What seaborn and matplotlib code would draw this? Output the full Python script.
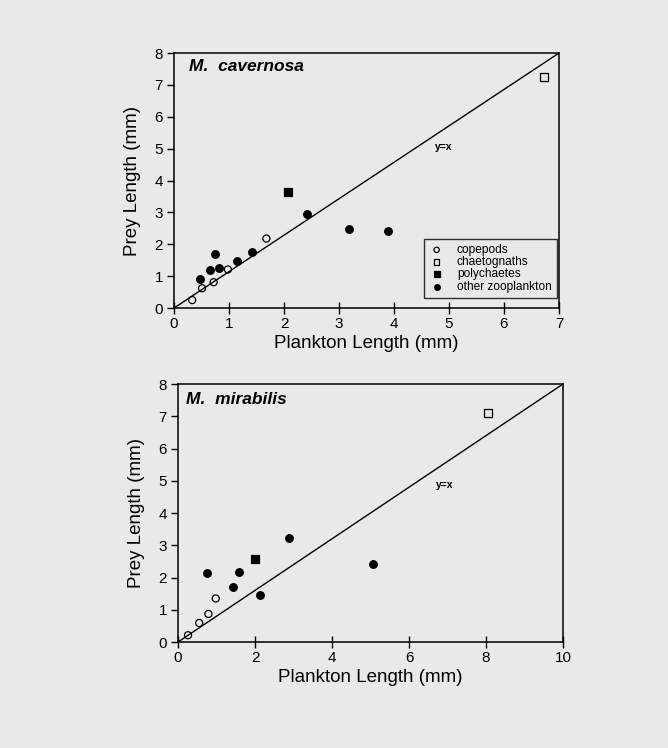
import matplotlib
matplotlib.use("Agg")
import matplotlib.pyplot as plt
import seaborn as sns
import pandas as pd

# M. cavernosa (top panel)
cav_copepod_x = [0.33, 0.51, 0.72, 0.98, 1.68]
cav_copepod_y = [0.25, 0.62, 0.81, 1.21, 2.18]
cav_chaeto_x = [6.73]
cav_chaeto_y = [7.24]
cav_poly_x = [2.08]
cav_poly_y = [3.65]
cav_other_x = [0.47, 0.65, 0.75, 0.82, 1.15, 1.41, 2.41, 3.19, 3.90]
cav_other_y = [0.92, 1.20, 1.69, 1.27, 1.47, 1.76, 2.95, 2.49, 2.41]

# M. mirabilis (bottom panel)
mir_copepod_x = [0.26, 0.55, 0.79, 0.98]
mir_copepod_y = [0.21, 0.59, 0.87, 1.35]
mir_chaeto_x = [8.05]
mir_chaeto_y = [7.11]
mir_poly_x = [2.01]
mir_poly_y = [2.56]
mir_other_x = [0.74, 1.44, 1.58, 2.12, 2.88, 5.07]
mir_other_y = [2.13, 1.72, 2.17, 1.47, 3.21, 2.43]

groups = ["copepods", "chaetognaths", "polychaetes", "other zooplankton"]
x_ticks_top = [0, 1, 2, 3, 4, 5, 6, 7]
x_ticks_bottom = [0, 2, 4, 6, 8, 10]
y_ticks = [0, 1, 2, 3, 4, 5, 6, 7, 8]

# marker style per group: (marker, filled, size)
style = {
    "copepods": ("o", False, 26),
    "chaetognaths": ("s", False, 30),
    "polychaetes": ("s", True, 36),
    "other zooplankton": ("o", True, 30),
}

sns.set_style("white")
plt.rcParams["font.family"] = ["Liberation Sans", "DejaVu Sans"]
plt.rcParams["text.color"] = "black"
plt.rcParams["axes.labelcolor"] = "black"
plt.rcParams["xtick.color"] = "black"
plt.rcParams["ytick.color"] = "black"
bg = "#e9e9e7"


def make_df(xs, ys):
    rows = []
    for g, gx, gy in zip(groups, xs, ys):
        for a, b in zip(gx, gy):
            rows.append({"plankton": a, "prey": b, "group": g})
    return pd.DataFrame(rows)


def draw_panel(ax, df, xmax, xticks, title, title_pos, yx_pos, legend=False):
    ax.set_facecolor(bg)
    # diagonal reference line, corner to corner
    sns.lineplot(x=[0, xmax], y=[0, 8], ax=ax, color="black", linewidth=1.0)
    for g in groups:
        sub = df[df["group"] == g]
        m, filled, s = style[g]
        sns.scatterplot(data=sub, x="plankton", y="prey", ax=ax, marker=m, s=s,
                        facecolor="black" if filled else "none",
                        edgecolor="black", linewidth=0.9, label=g, zorder=3)
    ax.set_xlim(0, xmax)
    ax.set_ylim(0, 8)
    ax.set_xticks(xticks)
    ax.set_yticks(y_ticks)
    ax.set_xlabel("Plankton Length (mm)", fontsize=13.5, labelpad=3)
    ax.set_ylabel("Prey Length (mm)", fontsize=13.5, labelpad=10)
    ax.tick_params(axis="x", bottom=True, direction="inout", length=9, width=1,
                   labelsize=11, pad=2)
    ax.tick_params(axis="y", left=True, direction="out", length=5, width=1,
                   labelsize=11, pad=3)
    for sp in ax.spines.values():
        sp.set_visible(True)
        sp.set_color("black")
        sp.set_linewidth(1.1)
    ax.text(title_pos[0], title_pos[1], title, fontsize=12.5, fontweight="bold",
            fontstyle="italic", va="center", ha="left")
    ax.text(yx_pos[0], yx_pos[1], "y=x", fontsize=7.5, fontweight="bold",
            va="center", ha="left")
    if legend:
        leg = ax.legend(loc="lower right", frameon=True, fancybox=False,
                        fontsize=8.6, handletextpad=1.1, borderpad=0.45,
                        labelspacing=0.02, handlelength=1.2, markerscale=0.75,
                        borderaxespad=0, bbox_to_anchor=(0.995, 0.039))
        leg.get_frame().set_edgecolor("black")
        leg.get_frame().set_linewidth(1.0)
        leg.get_frame().set_facecolor(bg)
    else:
        lg = ax.get_legend()
        if lg is not None:
            lg.remove()


fig = plt.figure(figsize=(6.68, 7.48), dpi=100)
fig.patch.set_facecolor(bg)
ax1 = fig.add_axes([0.2605, 0.5882, 0.5763, 0.3409])
ax2 = fig.add_axes([0.2665, 0.1417, 0.5763, 0.3449])

df_cav = make_df([cav_copepod_x, cav_chaeto_x, cav_poly_x, cav_other_x],
                 [cav_copepod_y, cav_chaeto_y, cav_poly_y, cav_other_y])
df_mir = make_df([mir_copepod_x, mir_chaeto_x, mir_poly_x, mir_other_x],
                 [mir_copepod_y, mir_chaeto_y, mir_poly_y, mir_other_y])

draw_panel(ax1, df_cav, 7, x_ticks_top, "M.  cavernosa", (0.27, 7.58), (4.75, 5.04), legend=True)
draw_panel(ax2, df_mir, 10, x_ticks_bottom, "M.  mirabilis", (0.22, 7.53), (6.69, 4.87))

fig.savefig("out.png", dpi=100, facecolor=bg)
